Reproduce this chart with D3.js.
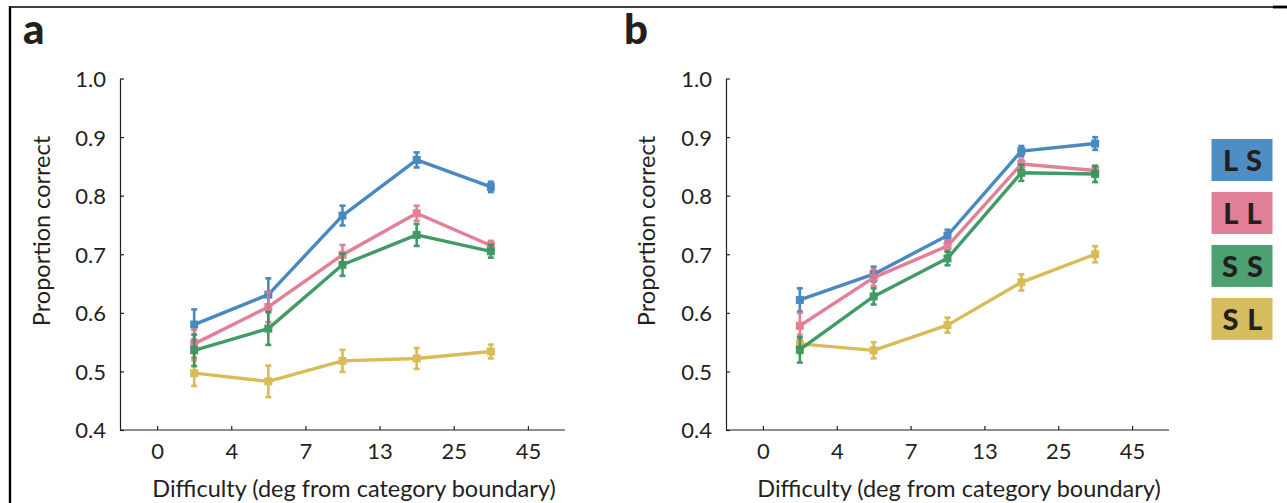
<!DOCTYPE html>
<html>
<head>
<meta charset="utf-8">
<script src="https://cdn.jsdelivr.net/npm/d3@7"></script>
<style>
  html, body { margin: 0; padding: 0; background: #fff; }
  svg { display: block; }
  text { font-family: "Lato", "Open Sans", sans-serif; fill: #231f20; }
</style>
</head>
<body>
<svg id="chart" width="1287" height="503"></svg>
<script>
// ---- data ----
const xTickLabels = ["0", "4", "7", "13", "25", "45"];
const difficultyBins = ["2", "5.5", "10", "19", "35"];   // bins between tick labels
const yTicks = [0.4, 0.5, 0.6, 0.7, 0.8, 0.9, 1.0];
const seriesNames = ["LS", "LL", "SS", "SL"];
const legendLabels = ["L S", "L L", "S S", "S L"];
const lineColors = ["#3a80bd", "#e1758e", "#33935a", "#d5b74a"];
const boxColors  = ["#4f8ec4", "#e07f97", "#4ca071", "#d6bd5f"];

// panel a
const aLS = [0.580, 0.631, 0.766, 0.861, 0.815];
const aLL = [0.547, 0.610, 0.699, 0.770, 0.715];
const aSS = [0.536, 0.573, 0.682, 0.733, 0.705];
const aSL = [0.497, 0.483, 0.518, 0.522, 0.534];
const aLSerr = [0.026, 0.028, 0.017, 0.013, 0.009];
const aLLerr = [0.024, 0.026, 0.017, 0.013, 0.008];
const aSSerr = [0.027, 0.028, 0.019, 0.019, 0.011];
const aSLerr = [0.022, 0.027, 0.019, 0.018, 0.012];

// panel b
const bLS = [0.622, 0.666, 0.732, 0.876, 0.889];
const bLL = [0.578, 0.660, 0.714, 0.854, 0.843];
const bSS = [0.537, 0.628, 0.693, 0.839, 0.837];
const bSL = [0.547, 0.536, 0.579, 0.652, 0.700];
const bLSerr = [0.020, 0.013, 0.010, 0.009, 0.011];
const bLLerr = [0.022, 0.014, 0.010, 0.008, 0.008];
const bSSerr = [0.022, 0.014, 0.012, 0.014, 0.014];
const bSLerr = [0.016, 0.014, 0.013, 0.014, 0.014];

const panels = [
  { letter: "a", values: [aLS, aLL, aSS, aSL], errs: [aLSerr, aLLerr, aSSerr, aSLerr],
    x0: 120, x1: 565, letterX: 23, letterY: 44, titleX: 50 },
  { letter: "b", values: [bLS, bLL, bSS, bSL], errs: [bLSerr, bLLerr, bSSerr, bSLerr],
    x0: 726, x1: 1169, letterX: 624, letterY: 44, titleX: 655 }
];

const svg = d3.select("#chart");

// frame lines
svg.append("line").attr("x1", 9).attr("x2", 1287).attr("y1", 7).attr("y2", 7)
  .attr("stroke", "#000").attr("stroke-width", 1.4);
svg.append("line").attr("x1", 1273).attr("x2", 1287).attr("y1", 7).attr("y2", 7)
  .attr("stroke", "#000").attr("stroke-width", 2.8);
svg.append("line").attr("x1", 10).attr("x2", 10).attr("y1", 6.3).attr("y2", 503)
  .attr("stroke", "#000").attr("stroke-width", 2.4);

const yTop = 78.5, yBot = 430;

panels.forEach(p => {
  const g = svg.append("g");
  const x = d3.scaleLinear().domain([-0.5, 5.5]).range([p.x0, p.x1]);
  const y = d3.scaleLinear().domain([0.4, 1.0]).range([yBot, yTop]);

  // y axis
  const yAx = g.append("g").attr("transform", `translate(${p.x0},0)`)
    .call(d3.axisRight(y).tickValues(yTicks).tickFormat(d3.format(".1f")).tickSize(4).tickSizeOuter(0));
  yAx.select(".domain").attr("stroke", "#231f20").attr("stroke-width", 1.2);
  yAx.selectAll(".tick line").attr("stroke", "#231f20").attr("stroke-width", 1.2);
  yAx.selectAll(".tick text").attr("x", -14).attr("text-anchor", "end")
    .attr("font-size", 22).attr("font-family", "Lato").attr("fill", "#231f20").attr("dy", "0.36em");

  // x axis
  const xAx = g.append("g").attr("transform", `translate(0,${yBot})`)
    .call(d3.axisTop(x).tickValues(d3.range(6)).tickFormat(i => xTickLabels[i]).tickSize(4).tickSizeOuter(0));
  xAx.select(".domain").attr("stroke", "#231f20").attr("stroke-width", 1.2)
    .attr("d", `M${p.x0},0H${p.x1}`);
  xAx.selectAll(".tick line").attr("stroke", "#231f20").attr("stroke-width", 1.2);
  xAx.selectAll(".tick text").attr("y", 29).attr("dy", 0)
    .attr("font-size", 22).attr("font-family", "Lato").attr("fill", "#231f20");

  // axis titles
  g.append("text").attr("x", (p.x0 + p.x1) / 2 + 11.5).attr("y", 497)
    .attr("text-anchor", "middle").attr("font-size", 23.5)
    .text("Difficulty (deg from category boundary)");
  g.append("text").attr("transform", `translate(${p.titleX},231) rotate(-90)`)
    .attr("text-anchor", "middle").attr("font-size", 23.5)
    .text("Proportion correct");

  // panel letter
  g.append("text").attr("x", p.letterX).attr("y", p.letterY)
    .attr("font-size", 42).attr("font-weight", 900).attr("font-family", "Lato")
    .text(p.letter);

  // series (draw SL first so coloured lines lie above it)
  const order = [3, 0, 1, 2];
  order.forEach(si => {
    const vals = p.values[si], errs = p.errs[si], col = lineColors[si];
    const sg = g.append("g").attr("opacity", 0.92);
    const pts = vals.map((v, i) => ({ i: i + 0.5, v, e: errs[i] }));
    sg.append("path").datum(pts)
      .attr("d", d3.line().x(d => x(d.i)).y(d => y(d.v)))
      .attr("fill", "none").attr("stroke", col).attr("stroke-width", 3.4)
      .attr("stroke-linejoin", "round");
    const pg = sg.selectAll("g.pt").data(pts).join("g").attr("class", "pt");
    pg.append("line")
      .attr("x1", d => x(d.i)).attr("x2", d => x(d.i))
      .attr("y1", d => y(d.v - d.e)).attr("y2", d => y(d.v + d.e))
      .attr("stroke", col).attr("stroke-width", 2.6);
    pg.append("rect").attr("x", d => x(d.i) - 3).attr("y", d => y(d.v + d.e) - 1.2)
      .attr("width", 6).attr("height", 2.6).attr("fill", col);
    pg.append("rect").attr("x", d => x(d.i) - 3).attr("y", d => y(d.v - d.e) - 1.4)
      .attr("width", 6).attr("height", 2.6).attr("fill", col);
    pg.append("rect").attr("x", d => x(d.i) - 4).attr("y", d => y(d.v) - 4)
      .attr("width", 8).attr("height", 8).attr("fill", col);
  });
});

// legend
const lg = svg.append("g");
const legY = d3.scaleBand().domain(seriesNames).range([139, 139 + 4 * 50.7]).paddingInner(0.17).paddingOuter(0);
seriesNames.forEach((s, i) => {
  lg.append("rect").attr("x", 1211.5).attr("y", legY(s)).attr("width", 61)
    .attr("height", 42).attr("fill", boxColors[i]);
  lg.append("text").attr("x", 1243).attr("y", legY(s) + 32)
    .attr("text-anchor", "middle").attr("font-size", 29).attr("font-weight", 900)
    .attr("font-family", "Lato").attr("fill", "#231f20").attr("letter-spacing", 1)
    .text(legendLabels[i]);
});
</script>
</body>
</html>
